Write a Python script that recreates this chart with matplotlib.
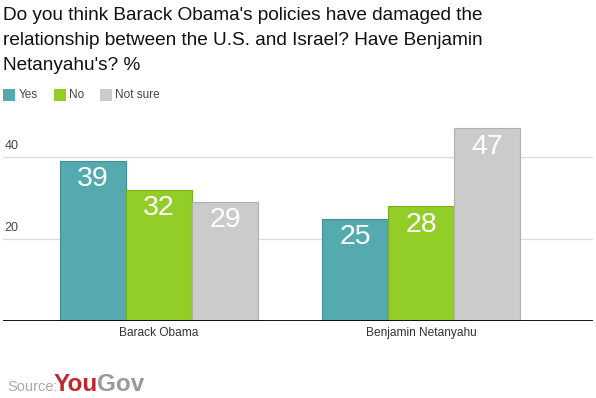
import matplotlib
matplotlib.use("Agg")
import matplotlib.pyplot as plt
from matplotlib.patches import Rectangle

plt.rcParams['font.family'] = ['Liberation Sans', 'DejaVu Sans']

categories = ["Barack Obama", "Benjamin Netanyahu"]
series_names = ["Yes", "No", "Not sure"]
yes = [39, 25]
no = [32, 28]
not_sure = [29, 47]
series_values = [yes, no, not_sure]
colors = ["#55aaaf", "#92cd28", "#cbcbcb"]
edges = ["#3f8f94", "#78b01a", "#b0b0b0"]
yticks = [20, 40]
title_lines = ["Do you think Barack Obama's policies have damaged the",
               "relationship between the U.S. and Israel? Have Benjamin",
               "Netanyahu's? %"]

W, H = 596, 398
fig = plt.figure(figsize=(W / 100, H / 100), dpi=100)

# plot area in pixels: x 3..593, y 115..321
left, right, top, bottom = 3, 593, 115, 321
ax = fig.add_axes([left / W, 1 - bottom / H, (right - left) / W, (bottom - top) / H])

bw = 66 / 262.0
xs = [0, 1]
offsets = [-1, 0, 1]
for vals, col, ec, off in zip(series_values, colors, edges, offsets):
    for x, v in zip(xs, vals):
        ax.bar(x + off * bw, v, width=bw, color=col, edgecolor=ec, linewidth=0.8, zorder=3)
        ax.text(x + off * bw, v - 1.3, str(v), ha='center', va='top', color='white',
                fontsize=20.5, zorder=4)

ax.set_xlim(-156 / 262.0, 1 + 172 / 262.0)
ax.set_ylim(0, (bottom - top) / 4.1)

for t in yticks:
    ax.axhline(t, color='#dddddd', linewidth=1, zorder=1)
    ax.text(-156 / 262.0 + 0.006, t + 1.3, str(t), ha='left', va='bottom',
            fontsize=9, color='#444444')

ax.axhline(0, color='black', linewidth=1.3, zorder=5)
for s in ax.spines.values():
    s.set_visible(False)
ax.set_xticks([])
ax.set_yticks([])

for x, c in zip(xs, categories):
    ax.text(x, -3.0, c, ha='center', va='center', fontsize=8.6, color='#333333')

# Title (baselines at 20, 45, 70 px)
for i, line in enumerate(title_lines):
    fig.text(3 / W, 1 - (20 + 25 * i) / H, line, ha='left', va='baseline',
             fontsize=13.7, color='#111111')

# Legend
leg_items = [(3, 19), (54, 69), (100, 115)]
for (sx, tx), name, col in zip(leg_items, series_names, colors):
    fig.patches.append(Rectangle((sx / W, 1 - 101 / H), 12 / W, 12 / H,
                                 transform=fig.transFigure, facecolor=col,
                                 edgecolor='none'))
    fig.text(tx / W, 1 - 95 / H, name, ha='left', va='center', fontsize=8.5,
             color='#444444')

# Source
fig.text(7 / W, 1 - 391 / H, "Source:", ha='left', va='baseline', fontsize=10.5,
         color='#aaaaaa')
fig.text(54 / W, 1 - 391 / H, "You", ha='left', va='baseline', fontsize=17.5,
         color='#c0272d', fontweight='bold')
fig.text(97 / W, 1 - 391 / H, "Gov", ha='left', va='baseline', fontsize=17.5,
         color='#9a9a9a', fontweight='bold')

fig.savefig("out.png", dpi=100)
